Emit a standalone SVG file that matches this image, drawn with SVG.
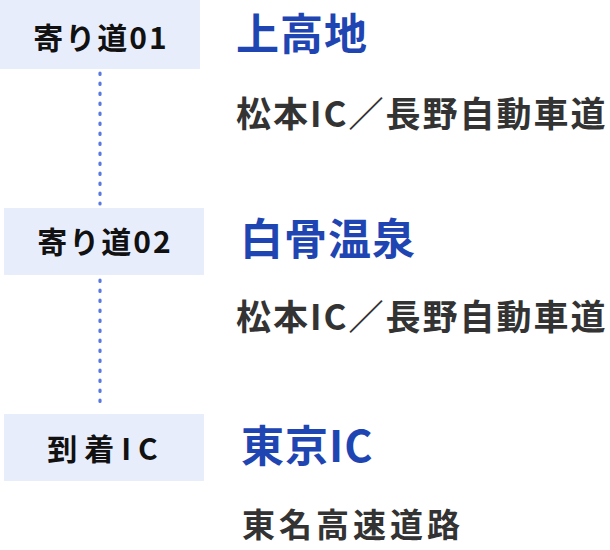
<svg xmlns="http://www.w3.org/2000/svg" width="610" height="550" viewBox="0 0 610 550">
<style>
.box{fill:#e8edfc}
.lbl{font-family:"Noto Sans CJK JP","Noto Sans",sans-serif;font-weight:700;font-size:30px;fill:#111;text-anchor:middle}
.ttl{font-family:"Noto Sans CJK JP","Noto Sans",sans-serif;font-weight:700;font-size:43px;fill:#1f45b3;letter-spacing:1px}
.sub{font-family:"Noto Sans CJK JP","Noto Sans",sans-serif;font-weight:700;font-size:35px;fill:#333;letter-spacing:2px}
.dot{stroke:#5a79e0;stroke-width:3.2;stroke-linecap:round;stroke-dasharray:1.5 8.5;fill:none}
</style>
<g id="connectors">
<line class="dot" x1="100" y1="73" x2="100" y2="204"/>
<line class="dot" x1="100" y1="280" x2="100" y2="410"/>
</g>
<g id="node1">
<rect class="box" x="0" y="0" width="200" height="69"/>
<text class="lbl" x="101" y="49" letter-spacing="2">寄り道01</text>
<text class="ttl" x="236" y="50">上高地</text>
<text class="sub" x="236" y="127">松本IC／長野自動車道</text>
</g>
<g id="node2">
<rect class="box" x="4" y="208" width="200" height="67"/>
<text class="lbl" x="105" y="253" letter-spacing="2">寄り道02</text>
<text class="ttl" x="240" y="255">白骨温泉</text>
<text class="sub" x="236" y="330">松本IC／長野自動車道</text>
</g>
<g id="node3">
<rect class="box" x="4" y="414" width="200" height="67"/>
<text class="lbl" x="106" y="460" letter-spacing="7">到着IC</text>
<text class="ttl" x="241" y="462">東京IC</text>
<text class="sub" x="242" y="537" style="font-size:33px;letter-spacing:4px">東名高速道路</text>
</g>
</svg>
